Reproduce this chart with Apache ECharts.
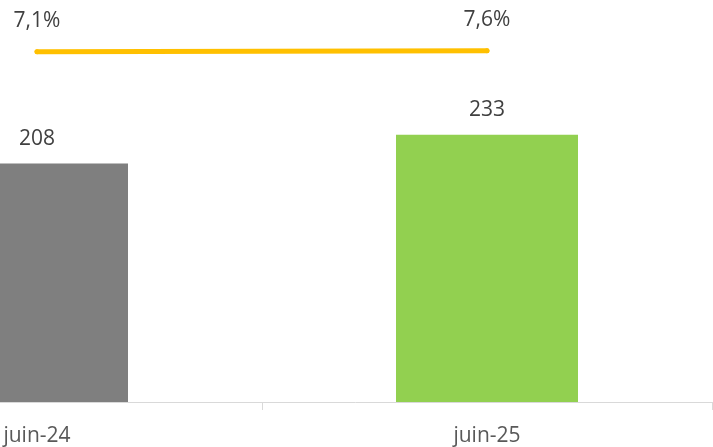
<!DOCTYPE html>
<html lang="fr">
<head>
    <meta charset="UTF-8">
    <title>juin-24 / juin-25</title>
    <script src="https://cdn.jsdelivr.net/npm/echarts@6/dist/echarts.min.js"></script>
    <style>
        body { margin: 0; background: #fff; }
        #chart { width: 713px; height: 447px; }
    </style>
</head>
<body>
    <div id="chart"></div>
    <script>
        // données
        const categories = ['juin-24', 'juin-25'];
        const barValues = [208, 233];
        const ratioValues = [7.1, 7.6];
        const barColors = ['#7f7f7f', '#92d050'];

        const chart = echarts.init(document.getElementById('chart'));
        const font = '"Open Sans", sans-serif';

        chart.setOption({
            animation: false,
            grid: [
                { left: -188, right: 1, top: 58, bottom: 45, outerBoundsMode: 'none' },
                { left: -188, right: 1, top: 46, height: 20, outerBoundsMode: 'none' }
            ],
            xAxis: [
                {
                    type: 'category',
                    data: categories,
                    gridIndex: 0,
                    axisLine: { lineStyle: { color: '#d9d9d9', width: 1 } },
                    axisTick: { show: true, length: 8, lineStyle: { color: '#d9d9d9' } },
                    axisLabel: { color: '#595959', fontSize: 21, fontFamily: font, margin: 24 }
                },
                {
                    type: 'category',
                    data: categories,
                    gridIndex: 1,
                    show: false
                }
            ],
            yAxis: [
                { type: 'value', gridIndex: 0, min: 0, max: 300, show: false },
                { type: 'value', gridIndex: 1, min: 0, max: 10, show: false }
            ],
            series: [
                {
                    type: 'bar',
                    data: barValues,
                    barWidth: 182,
                    itemStyle: { color: p => barColors[p.dataIndex] },
                    label: {
                        show: true,
                        position: 'top',
                        distance: 14,
                        color: '#404040',
                        fontSize: 21,
                        fontFamily: font
                    }
                },
                {
                    type: 'line',
                    xAxisIndex: 1,
                    yAxisIndex: 1,
                    data: ratioValues,
                    symbol: 'circle',
                    symbolSize: 5,
                    itemStyle: { color: '#ffc000' },
                    lineStyle: { color: '#ffc000', width: 5, cap: 'round' },
                    label: {
                        show: true,
                        position: 'top',
                        distance: 18,
                        color: '#404040',
                        fontSize: 21,
                        fontFamily: font,
                        formatter: p => p.value.toFixed(1).replace('.', ',') + '%'
                    }
                }
            ]
        });
    </script>
</body>
</html>
